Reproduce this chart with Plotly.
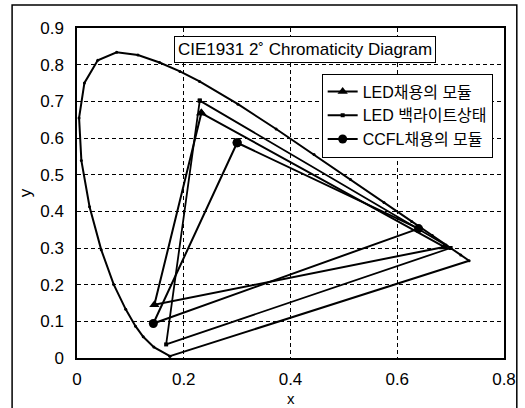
import plotly.graph_objects as go

# CIE 1931 spectral locus points (chromaticity x, y), closed with purple line
locus_x = [0.1741, 0.1440, 0.1241, 0.1096, 0.0913, 0.0687, 0.0454, 0.0235, 0.0082, 0.0039,
           0.0139, 0.0389, 0.0743, 0.1142, 0.1547, 0.1929, 0.2296, 0.3016, 0.3731, 0.4441,
           0.5125, 0.5752, 0.6270, 0.6658, 0.6915, 0.7190, 0.7347, 0.1741]
locus_y = [0.0050, 0.0297, 0.0578, 0.0868, 0.1327, 0.2007, 0.2950, 0.4127, 0.5384, 0.6548,
           0.7502, 0.8120, 0.8338, 0.8262, 0.8059, 0.7816, 0.7543, 0.6923, 0.6245, 0.5547,
           0.4866, 0.4242, 0.3725, 0.3340, 0.3083, 0.2809, 0.2653, 0.0050]

led_module_x = [0.233, 0.688, 0.145, 0.233]
led_module_y = [0.668, 0.303, 0.145, 0.668]

led_backlight_x = [0.230, 0.700, 0.167, 0.230]
led_backlight_y = [0.702, 0.300, 0.037, 0.702]

ccfl_x = [0.300, 0.640, 0.143, 0.300]
ccfl_y = [0.587, 0.353, 0.094, 0.587]

names = ["LED채용의 모듈", "LED 백라이트상태", "CCFL채용의 모듈"]

FONT = "Liberation Sans, Arial, Noto Sans CJK KR"

fig = go.Figure()
fig.add_trace(go.Scatter(x=locus_x, y=locus_y, mode="lines+markers",
                         line=dict(color="black", width=2),
                         marker=dict(size=3, color="black"), showlegend=False))
fig.add_trace(go.Scatter(x=led_module_x, y=led_module_y, mode="lines+markers", name=names[0],
                         line=dict(color="black", width=2),
                         marker=dict(symbol="triangle-up", size=9, color="black")))
fig.add_trace(go.Scatter(x=led_backlight_x, y=led_backlight_y, mode="lines+markers", name=names[1],
                         line=dict(color="black", width=1.8),
                         marker=dict(symbol="square", size=4, color="black")))
fig.add_trace(go.Scatter(x=ccfl_x, y=ccfl_y, mode="lines+markers", name=names[2],
                         line=dict(color="black", width=2),
                         marker=dict(symbol="circle", size=9, color="black")))

axis_common = dict(showline=True, linecolor="black", linewidth=1.5, mirror=True,
                   showgrid=True, gridcolor="black", griddash="4px,3px", gridwidth=1,
                   zeroline=False, ticks="", automargin=False,
                   tickfont=dict(size=17, color="black", family=FONT))

fig.update_xaxes(range=[0, 0.8], dtick=0.2, tickformat="~g", ticklabelstandoff=5, **axis_common)
fig.update_yaxes(range=[0, 0.9], dtick=0.1, tickformat="~g", ticklabelstandoff=8,
                 title=dict(text="y", standoff=4, font=dict(size=17, color="black", family=FONT)),
                 **axis_common)

fig.add_annotation(text="x", xref="paper", yref="paper", x=0.5, y=-0.093,
                   xanchor="center", yanchor="top", showarrow=False, borderpad=0,
                   font=dict(size=15, color="black", family=FONT))

fig.add_annotation(text="CIE1931 2˚ Chromaticity Diagram", xref="paper", yref="paper",
                   x=0.535, y=0.935, xanchor="center", yanchor="middle", showarrow=False,
                   bordercolor="black", borderwidth=1,
                   borderpad=3, bgcolor="white", font=dict(size=17, color="black", family=FONT))

fig.add_shape(type="rect", xref="paper", yref="paper", x0=-0.152, x1=1.03, y0=-0.2, y1=1.07,
              line=dict(color="black", width=1.5))

fig.update_layout(
    width=525, height=408,
    margin=dict(l=77, r=21, t=28, b=50),
    paper_bgcolor="white", plot_bgcolor="white",
    font=dict(family=FONT, color="black"),
    legend=dict(x=0.573, y=0.862, xanchor="left", yanchor="top",
                bordercolor="black", borderwidth=1, bgcolor="white",
                font=dict(size=16, color="black", family=FONT),
                tracegroupgap=0, itemwidth=30),
)

fig.write_html("out.html")
